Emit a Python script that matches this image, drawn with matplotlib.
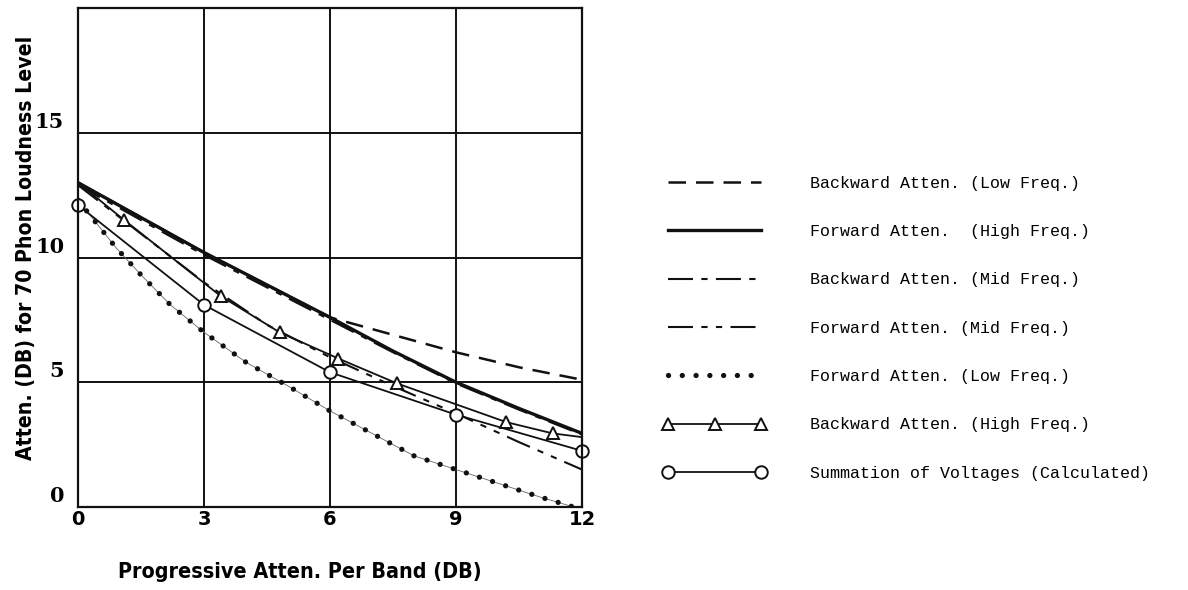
import matplotlib
matplotlib.use("Agg")
import matplotlib.pyplot as plt
from matplotlib.transforms import ScaledTranslation
from matplotlib.legend_handler import HandlerLine2D

# values (x = progressive atten. per band, DB)
x_main = [0, 1.5, 3, 4.5, 6, 7.5, 9, 10.5, 12]
bwd_low = [13.0, 11.6, 10.2, 8.9, 7.6, 6.9, 6.2, 5.6, 5.1]
fwd_high = [13.0, 11.6, 10.2, 8.9, 7.6, 6.25, 5.0, 3.95, 2.95]
bwd_mid = [12.9, 11.5, 10.1, 8.8, 7.5, 6.2, 4.95, 3.9, 2.9]
fwd_mid = [12.9, 10.95, 9.0, 7.3, 6.0, 4.85, 3.75, 2.6, 1.5]

x_fwd_low = [0, 0.9, 1.5, 2.2, 3, 4, 5, 6, 7, 8, 9, 10, 11, 12]
fwd_low = [12.3, 10.4, 9.3, 8.1, 7.0, 5.8, 4.85, 3.85, 2.95, 2.05, 1.5, 0.95, 0.4, -0.1]

x_bwd_high = [0, 1.1, 3.4, 4.8, 6.2, 7.6, 10.2, 11.3, 12]
bwd_high = [13.0, 11.5, 8.45, 7.0, 5.95, 4.95, 3.4, 2.95, 2.8]

x_sum = [0, 3, 6, 9, 12]
summation = [12.1, 8.1, 5.4, 3.7, 2.25]

x_ticks = [0, 3, 6, 9, 12]
y_ticks = [0, 5, 10, 15]

labels = [
    "Backward Atten. (Low Freq.)",
    "Forward Atten.  (High Freq.)",
    "Backward Atten. (Mid Freq.)",
    "Forward Atten. (Mid Freq.)",
    "Forward Atten. (Low Freq.)",
    "Backward Atten. (High Freq.)",
    "Summation of Voltages (Calculated)",
]

ink = "#111111"
fig = plt.figure(figsize=(11.88, 5.90), dpi=100)
ax = fig.add_axes([0.0657, 0.1407, 0.4242, 0.8457])

l1, = ax.plot(x_main, bwd_low, color=ink, lw=1.8, dashes=(7, 4), label=labels[0])
l2, = ax.plot(x_main, fwd_high, color=ink, lw=2.4, label=labels[1])
l3, = ax.plot(x_main, bwd_mid, color=ink, lw=1.5, dashes=(12, 4, 3, 4), label=labels[2])
l4, = ax.plot(x_main, fwd_mid, color=ink, lw=1.5, dashes=(12, 4, 3, 4, 3, 4), label=labels[3])
# thin trace under the dots
ax.plot(x_fwd_low, fwd_low, color="0.4", lw=0.6)
l5, = ax.plot(x_fwd_low, fwd_low, color=ink, lw=3.8, linestyle=(0, (0.01, 2.6)),
              dash_capstyle="round", label=labels[4])
l6, = ax.plot(x_bwd_high, bwd_high, color=ink, lw=1.3, marker="^", markersize=8,
              markerfacecolor="white", markeredgewidth=1.4, markevery=list(range(1, 8)),
              label=labels[5], clip_on=False)
l7, = ax.plot(x_sum, summation, color=ink, lw=1.3, marker="o", markersize=9,
              markerfacecolor="white", markeredgewidth=1.4, label=labels[6], clip_on=False)

ax.set_xlim(0, 12)
ax.set_ylim(0, 20)
ax.set_xticks(x_ticks)
ax.set_yticks(y_ticks + [20], labels=[str(v) for v in y_ticks] + [""])
ax.grid(True, color=ink, lw=1.4)
ax.set_axisbelow(True)
for s in ax.spines.values():
    s.set_color(ink)
    s.set_linewidth(1.6)
ax.tick_params(length=0, pad=2)
ax.tick_params(axis="y", pad=10)
for lab in ax.get_xticklabels():
    lab.set_fontfamily("DejaVu Sans")
    lab.set_fontweight("bold")
    lab.set_fontsize(14)
for lab in ax.get_yticklabels():
    lab.set_fontfamily("DejaVu Serif")
    lab.set_fontweight("bold")
    lab.set_fontsize(15)
    lab.set_transform(lab.get_transform() + ScaledTranslation(0, 0.13, fig.dpi_scale_trans))

fig.text(0.022, 1 - 248 / 590, "Atten. (DB) for 70 Phon Loudness Level", rotation=90,
         ha="center", va="center", fontsize=15.2, fontweight="bold",
         family="DejaVu Sans", fontstretch="condensed")
fig.text(300 / 1188, 1 - 572 / 590, "Progressive Atten. Per Band (DB)",
         ha="center", va="center", fontsize=15.4, fontweight="bold",
         family="DejaVu Sans", fontstretch="condensed")

leg = fig.legend(
    [l1, l2, l3, l4, l5, l6, l7], labels,
    loc="upper left", bbox_to_anchor=(0.558, 0.702), bbox_transform=fig.transFigure,
    frameon=False, borderpad=0, borderaxespad=0,
    prop={"family": "Liberation Mono", "size": 12},
    handlelength=6.2, handletextpad=2.6, labelspacing=2.0, numpoints=3,
    handler_map={l7: HandlerLine2D(numpoints=2)},
)

fig.savefig("out.png", dpi=100, facecolor="white")
